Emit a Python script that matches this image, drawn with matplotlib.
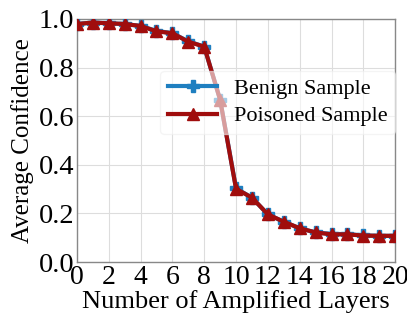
import numpy as np
import matplotlib.pyplot as plt

# layer count vs average confidence
layers = list(range(21))
benign = [0.979, 0.985, 0.982, 0.979, 0.971, 0.951, 0.941, 0.908, 0.886, 0.667,
          0.303, 0.265, 0.196, 0.166, 0.139, 0.122, 0.116, 0.115, 0.110, 0.108, 0.108]
poisoned = [0.979, 0.985, 0.982, 0.979, 0.971, 0.949, 0.941, 0.906, 0.886, 0.667,
            0.301, 0.265, 0.196, 0.166, 0.139, 0.122, 0.114, 0.114, 0.109, 0.108, 0.108]

plt.rcParams['font.family'] = ['Liberation Serif', 'DejaVu Serif']

fig = plt.figure(figsize=(4.07, 3.26), dpi=100)
ax = fig.add_axes([0.189, 0.196, 0.782, 0.746])

ax.plot(layers, benign, color='#1f7fc0', lw=3, marker='P', markersize=9,
        label='Benign Sample', zorder=3)
ax.plot(layers, poisoned, color='#a00d0d', lw=3, marker='^', markersize=8,
        label='Poisoned Sample', zorder=4)

ax.set_xlim(0, 20)
ax.set_ylim(0, 1.0)
ax.set_xticks(range(0, 21, 2))
ax.set_yticks(np.arange(0, 1.01, 0.2))
ax.set_yticklabels([f'{v:.1f}' for v in np.arange(0, 1.01, 0.2)])
ax.grid(True, color='#dddddd', lw=0.8)
ax.set_axisbelow(True)
for s in ax.spines.values():
    s.set_color('#888888')
    s.set_linewidth(1)
ax.tick_params(axis='x', labelsize=20, length=0, pad=2)
ax.tick_params(axis='y', labelsize=20.5, length=0, pad=2)
ax.set_xlabel('Number of Amplified Layers', fontsize=19, labelpad=0)
ax.set_ylabel('Average Confidence', fontsize=18, labelpad=3)

leg = ax.legend(loc='center right', bbox_to_anchor=(1.0, 0.656), fontsize=16,
                framealpha=0.6, edgecolor='#eeeeee', handlelength=2.2,
                borderaxespad=0, handletextpad=0.75, labelspacing=0.3,
                borderpad=0.35)
leg.set_zorder(5)

fig.savefig('out.png', dpi=100)
